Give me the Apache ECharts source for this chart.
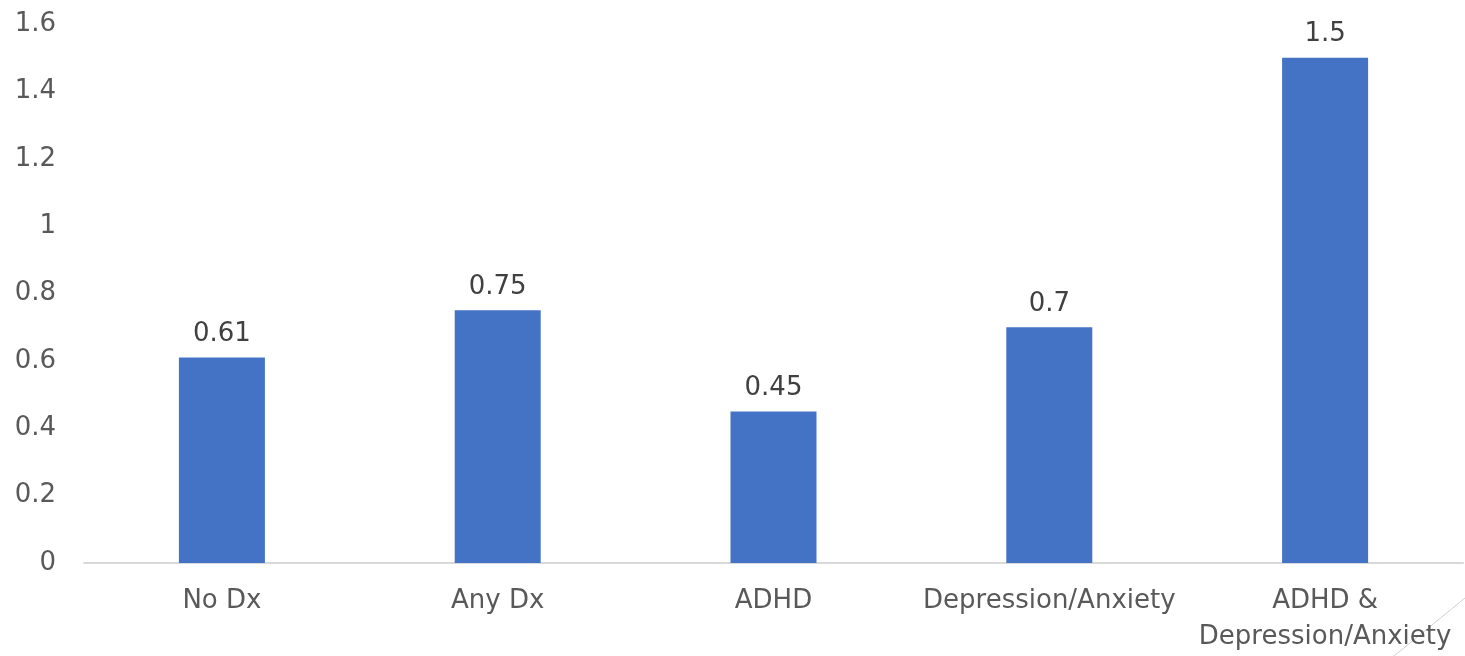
<!DOCTYPE html>
<html>
<head>
<meta charset="utf-8">
<script src="https://cdn.jsdelivr.net/npm/echarts@6/dist/echarts.min.js"></script>
<style>
  html, body { margin: 0; padding: 0; background: #fff; }
  #chart { width: 1465px; height: 656px; }
</style>
</head>
<body>
<div id="chart"></div>
<script>
// Categories and values
const categories = ['No Dx', 'Any Dx', 'ADHD', 'Depression/Anxiety', 'ADHD &\nDepression/Anxiety'];
const values = [0.61, 0.75, 0.45, 0.7, 1.5];
const yTicks = { min: 0, max: 1.6, interval: 0.2 };

const FONT = 'DejaVu Sans';
const chart = echarts.init(document.getElementById('chart'), null, { renderer: 'canvas' });

chart.setOption({
  animation: false,
  grid: { left: 84, right: 2, top: 24, bottom: 93, containLabel: false },
  xAxis: {
    type: 'category',
    data: categories,
    axisLine: { show: true, lineStyle: { color: '#d9d9d9', width: 2 } },
    axisTick: { show: false },
    axisLabel: {
      color: '#595959', fontFamily: FONT, fontSize: 26, margin: 20,
      lineHeight: 36, interval: 0
    }
  },
  yAxis: {
    type: 'value',
    min: yTicks.min, max: yTicks.max, interval: yTicks.interval,
    splitLine: { show: false },
    axisLine: { show: false },
    axisTick: { show: false },
    axisLabel: {
      color: '#595959', fontFamily: FONT, fontSize: 26, margin: 28,
      formatter: v => String(Math.round(v * 10) / 10)
    }
  },
  series: [{
    type: 'bar',
    data: values,
    barWidth: 86,
    itemStyle: { color: '#4472C4' },
    label: {
      show: true, position: 'top', distance: 10,
      color: '#404040', fontFamily: FONT, fontSize: 26
    }
  }],
  graphic: [{
    type: 'line',
    shape: { x1: 1465, y1: 598, x2: 1394, y2: 656 },
    style: { stroke: '#d0d0d0', lineWidth: 1 }
  }]
});
</script>
</body>
</html>
